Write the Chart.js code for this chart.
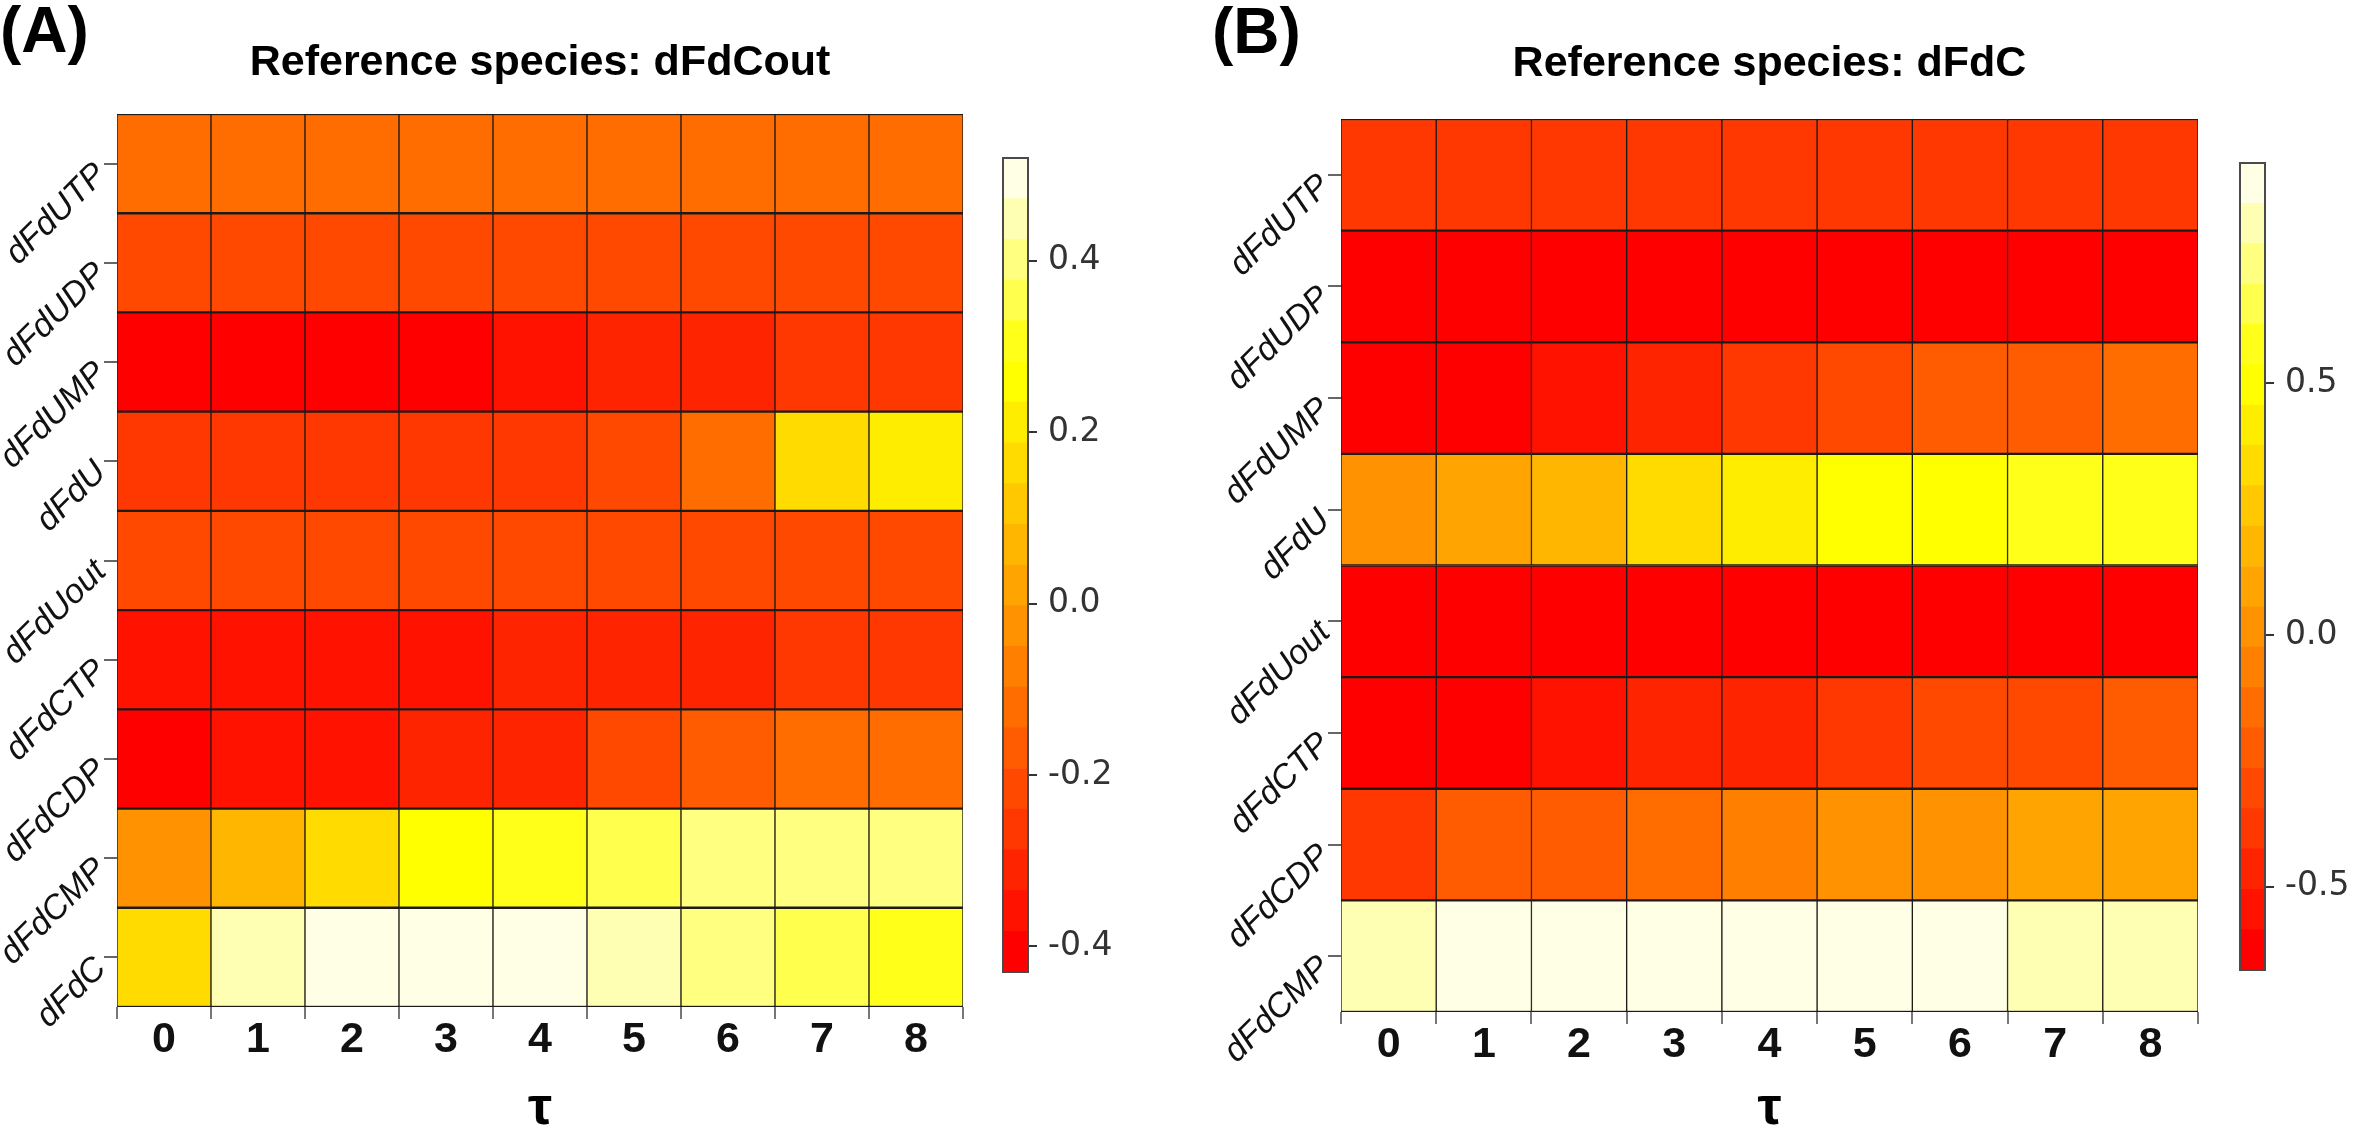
<!DOCTYPE html>
<html>
<head>
<meta charset="utf-8">
<script src="https://cdn.jsdelivr.net/npm/chart.js@4.4.0/dist/chart.umd.min.js"></script>
<style>
    body { margin: 0; width: 2360px; height: 1136px; background: #fff; position: relative; overflow: hidden; }
    canvas { position: absolute; }
    .tag { position: absolute; font: bold 64px "Liberation Sans", Arial, sans-serif; line-height: 1; color: #000; }
</style>
</head>
<body>
<div class="tag" style="left:0;top:-2px">(A)</div>
<div class="tag" style="left:1212px;top:-1px">(B)</div>
<canvas id="heatA" width="1180" height="1136" style="left:0;top:0"></canvas>
<canvas id="barA" width="200" height="830" style="left:995px;top:150px"></canvas>
<canvas id="heatB" width="1180" height="1136" style="left:1180px;top:0"></canvas>
<canvas id="barB" width="128" height="823" style="left:2232px;top:155px"></canvas>
<script>
// tau lags on the x axis
let tauLabels = ['0', '1', '2', '3', '4', '5', '6', '7', '8'];

// panel A: reference species dFdCout
let rowsA = ['dFdUTP', 'dFdUDP', 'dFdUMP', 'dFdU', 'dFdUout', 'dFdCTP', 'dFdCDP', 'dFdCMP', 'dFdC'];
let dFdUTP_A  = [-0.12, -0.12, -0.13, -0.12, -0.12, -0.11, -0.12, -0.12, -0.12];
let dFdUDP_A  = [-0.21, -0.20, -0.21, -0.21, -0.21, -0.21, -0.20, -0.21, -0.21];
let dFdUMP_A  = [-0.41, -0.42, -0.41, -0.41, -0.36, -0.31, -0.30, -0.26, -0.25];
let dFdU_A    = [-0.26, -0.25, -0.26, -0.26, -0.25, -0.21, -0.12, 0.17, 0.21];
let dFdUout_A = [-0.21, -0.21, -0.21, -0.22, -0.21, -0.21, -0.22, -0.23, -0.22];
let dFdCTP_A  = [-0.36, -0.35, -0.36, -0.35, -0.31, -0.30, -0.30, -0.26, -0.25];
let dFdCDP_A  = [-0.41, -0.36, -0.35, -0.31, -0.29, -0.21, -0.17, -0.12, -0.12];
let dFdCMP_A  = [-0.03, 0.07, 0.17, 0.26, 0.31, 0.35, 0.40, 0.41, 0.40];
let dFdC_A    = [0.17, 0.45, 0.50, 0.50, 0.49, 0.45, 0.40, 0.36, 0.31];
let rangeA = [-0.43, 0.52];
let cbTicksA = [-0.4, -0.2, 0.0, 0.2, 0.4];

// panel B: reference species dFdC
let rowsB = ['dFdUTP', 'dFdUDP', 'dFdUMP', 'dFdU', 'dFdUout', 'dFdCTP', 'dFdCDP', 'dFdCMP'];
let dFdUTP_B  = [-0.39, -0.38, -0.39, -0.38, -0.38, -0.39, -0.38, -0.37, -0.38];
let dFdUDP_B  = [-0.63, -0.64, -0.63, -0.64, -0.64, -0.63, -0.64, -0.64, -0.63];
let dFdUMP_B  = [-0.60, -0.59, -0.55, -0.47, -0.39, -0.30, -0.24, -0.22, -0.16];
let dFdU_B    = [0.01, 0.10, 0.17, 0.33, 0.41, 0.50, 0.52, 0.55, 0.56];
let dFdUout_B = [-0.64, -0.65, -0.64, -0.65, -0.65, -0.64, -0.64, -0.65, -0.65];
let dFdCTP_B  = [-0.62, -0.60, -0.55, -0.48, -0.45, -0.38, -0.30, -0.29, -0.22];
let dFdCDP_B  = [-0.38, -0.22, -0.20, -0.13, -0.05, 0.02, 0.04, 0.09, 0.08];
let dFdCMP_B  = [0.81, 0.89, 0.90, 0.90, 0.89, 0.90, 0.88, 0.82, 0.81];
let rangeB = [-0.665, 0.937];
let cbTicksB = [-0.5, 0.0, 0.5];

// R style heat.colors(n): red -> yellow, then yellow -> pale cream
function heatColors(n) {
    let j = Math.floor(n / 4), i = n - j, out = [];
    for (let k = 0; k < i; k++) {
        out.push('rgb(255,' + Math.round(255 * k / (i - 1)) + ',0)');
    }
    for (let k = 0; k < j; k++) {
        let s = (1 - 1 / (2 * j)) - k * (1 - 1 / j) / (j - 1);
        out.push('rgb(255,255,' + Math.round(255 * (1 - s)) + ')');
    }
    return out;
}
let palette = heatColors(20);

function colorFor(v, range) {
    let k = Math.floor((v - range[0]) / (range[1] - range[0]) * palette.length);
    return palette[Math.max(0, Math.min(palette.length - 1, k))];
}

let tickFont = { family: 'Liberation Sans', size: 43, weight: 'bold', lineHeight: 1 };

function heatmap(id, rows, values, range, title, box) {
    let datasets = rows.map(function(name, r) {
        return {
            label: name,
            data: tauLabels.map(function() { return 1; }),
            backgroundColor: values[r].map(function(v) { return colorFor(v, range); }),
            borderColor: '#1e1a18',
            borderWidth: { top: 1.5, bottom: 1.5, left: 1, right: 1 },
            borderSkipped: false,
            barPercentage: 1,
            categoryPercentage: 1
        };
    });

    return new Chart(document.getElementById(id), {
        type: 'bar',
        data: { labels: tauLabels, datasets: datasets },
        options: {
            responsive: false,
            animation: false,
            devicePixelRatio: 1,
            layout: { padding: { left: 0, right: box.right, top: 0, bottom: 0 } },
            plugins: {
                legend: { display: false },
                tooltip: { enabled: false },
                title: {
                    display: true,
                    fullSize: false,
                    text: title,
                    color: '#000',
                    font: { family: 'Liberation Sans', size: 43, weight: 'bold', lineHeight: 1.2 },
                    padding: { top: box.titleTop, bottom: box.titleBottom }
                }
            },
            scales: {
                x: {
                    stacked: true,
                    grid: { drawOnChartArea: false, tickLength: 12, color: '#777', lineWidth: 2 },
                    border: { display: false },
                    ticks: { color: '#111', padding: 0, font: tickFont },
                    title: {
                        display: true,
                        text: 'τ',
                        color: '#000',
                        font: { family: 'Liberation Sans', size: 54, weight: 'bold', lineHeight: 1 },
                        padding: 0
                    },
                    afterFit: function(s) {
                        s.height = box.xHeight;
                        s.paddingLeft = 0;
                        s.paddingRight = 0;
                    }
                },
                y: {
                    stacked: true,
                    reverse: true,
                    min: 0,
                    max: rows.length,
                    grid: { drawOnChartArea: false, tickLength: 13, color: '#666', lineWidth: 2 },
                    border: { display: false },
                    ticks: {
                        autoSkip: false,
                        minRotation: 45,
                        maxRotation: 45,
                        padding: 3,
                        labelOffset: 6,
                        color: '#111',
                        font: { family: 'Liberation Sans', size: 34, style: 'italic', lineHeight: 1 },
                        callback: function(v, i) { return rows[i]; }
                    },
                    afterBuildTicks: function(s) {
                        s.ticks = rows.map(function(_, i) { return { value: i + 0.5 }; });
                    },
                    afterFit: function(s) {
                        s.width = box.yWidth;
                        s.paddingTop = 0;
                        s.paddingBottom = 0;
                    }
                }
            }
        }
    });
}

// thin dark frame round the colour key
let framePlugin = {
    id: 'frame',
    afterDatasetsDraw: function(chart) {
        let a = chart.chartArea, ctx = chart.ctx;
        ctx.save();
        ctx.strokeStyle = '#4a4a4a';
        ctx.lineWidth = 2;
        ctx.strokeRect(a.left, a.top, a.right - a.left, a.bottom - a.top);
        ctx.restore();
    }
};

function colorbar(id, range, ticks, axisWidth) {
    let step = (range[1] - range[0]) / palette.length;
    let datasets = palette.map(function(c, k) {
        return {
            data: [[range[0] + k * step, range[0] + (k + 1) * step]],
            backgroundColor: c,
            borderWidth: 0,
            barPercentage: 1,
            categoryPercentage: 1,
            grouped: false
        };
    });

    return new Chart(document.getElementById(id), {
        type: 'bar',
        data: { labels: ['key'], datasets: datasets },
        plugins: [framePlugin],
        options: {
            responsive: false,
            animation: false,
            devicePixelRatio: 1,
            layout: { padding: { left: 8, top: 8, bottom: 8, right: 0 } },
            plugins: { legend: { display: false }, tooltip: { enabled: false } },
            scales: {
                x: { display: false },
                y: {
                    position: 'right',
                    min: range[0],
                    max: range[1],
                    grid: { drawOnChartArea: false, tickLength: 9, color: '#333', lineWidth: 2 },
                    border: { display: false },
                    ticks: {
                        padding: 11,
                        color: '#333',
                        font: { family: 'DejaVu Sans', size: 33, lineHeight: 1 },
                        callback: function(v) { return v.toFixed(1); }
                    },
                    afterBuildTicks: function(s) {
                        s.ticks = ticks.map(function(t) { return { value: t }; });
                    },
                    afterFit: function(s) {
                        s.width = axisWidth;
                        s.paddingTop = 0;
                        s.paddingBottom = 0;
                    }
                }
            }
        }
    });
}

document.addEventListener('DOMContentLoaded', function() {
    heatmap('heatA', rowsA,
        [dFdUTP_A, dFdUDP_A, dFdUMP_A, dFdU_A, dFdUout_A, dFdCTP_A, dFdCDP_A, dFdCMP_A, dFdC_A],
        rangeA, 'Reference species: dFdCout',
        { right: 217, yWidth: 117, xHeight: 129, titleTop: 37, titleBottom: 25.4 });
    colorbar('barA', rangeA, cbTicksA, 167);

    heatmap('heatB', rowsB,
        [dFdUTP_B, dFdUDP_B, dFdUMP_B, dFdU_B, dFdUout_B, dFdCTP_B, dFdCDP_B, dFdCMP_B],
        rangeB, 'Reference species: dFdC',
        { right: 162, yWidth: 161, xHeight: 124, titleTop: 38, titleBottom: 29.4 });
    colorbar('barB', rangeB, cbTicksB, 95);
});
</script>
</body>
</html>
